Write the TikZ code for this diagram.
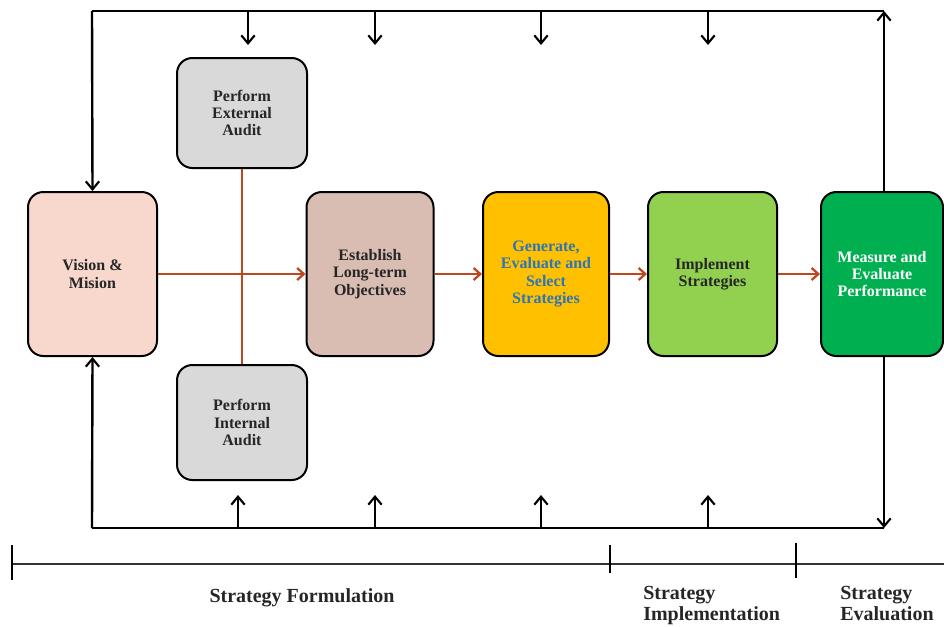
\documentclass[tikz,border=0pt]{standalone}
\usepackage{fontspec}
\setmainfont{Liberation Serif}
\usetikzlibrary{arrows.meta}
\definecolor{visionfill}{HTML}{F8D8CC}
\definecolor{auditfill}{HTML}{D9D9D9}
\definecolor{objfill}{HTML}{D9BDB3}
\definecolor{genfill}{HTML}{FFC000}
\definecolor{gentext}{HTML}{2E75B6}
\definecolor{implfill}{HTML}{92D050}
\definecolor{measfill}{HTML}{00B050}
\definecolor{flow}{HTML}{C0461E}
\definecolor{boxtext}{HTML}{262626}
\begin{document}
\begin{tikzpicture}[x=0.75pt,y=-0.75pt,
  stagebox/.style={draw=black, line width=1.5pt, rounded corners=11.5pt,
    align=center, inner sep=0pt, text=boxtext,
    font=\bfseries\fontsize{12}{13}\selectfont},
  loopline/.style={line width=1.8pt, black},
  looparrow/.style={loopline, -{Straight Barb[length=6pt,width=10pt,line width=1.6pt]}},
  flowarrow/.style={line width=2pt, flow, -{Straight Barb[length=5pt,width=9pt,line width=1.7pt]}},
  phase/.style={font=\bfseries\fontsize{15}{15.5}\selectfont, text=boxtext, align=left, inner sep=0pt},
  tick/.style={line width=1pt, black}]
\useasboundingbox (0,0) rectangle (944,626);

% stages of the process
\node[stagebox, fill=visionfill, minimum width=96.75pt, minimum height=123pt] (vision) at (92.5,274) {Vision \&\\Mision};
\node[stagebox, fill=auditfill, minimum width=97.5pt, minimum height=82.5pt] (ext) at (242,113) {Perform\\External\\Audit};
\node[stagebox, fill=auditfill, minimum width=97.5pt, minimum height=86.25pt] (int) at (242,422.5) {Perform\\Internal\\Audit};
\node[stagebox, fill=objfill, minimum width=95.25pt, minimum height=123pt] (obj) at (370,274) {Establish\\Long-term\\Objectives};
\node[stagebox, fill=genfill, text=gentext, minimum width=94.5pt, minimum height=123pt] (gen) at (546,274) {Generate,\\Evaluate and\\Select\\Strategies};
\node[stagebox, fill=implfill, minimum width=96.75pt, minimum height=123pt] (impl) at (712.5,274) {Implement\\Strategies};
\node[stagebox, fill=measfill, text=white, minimum width=91.5pt, minimum height=123pt] (meas) at (882,274) {Measure and\\Evaluate\\Performance};

% main flow
\draw[line width=2pt, flow] (ext.south) -- (int.north);
\draw[flowarrow] (vision.east) -- (obj.west);
\draw[flowarrow] (obj.east) -- (gen.west);
\draw[flowarrow] (gen.east) -- (impl.west);
\draw[flowarrow] (impl.east) -- (meas.west);

% feedback loop
\coordinate (tl) at (92,11);
\coordinate (tr) at (884,11);
\coordinate (bl) at (92,528);
\coordinate (br) at (884,528);
\draw[loopline] (tl) -- (tr);
\draw[loopline] (bl) -- (br);
\draw[looparrow] (tl) -- (vision.north);
\draw[looparrow] (bl) -- (vision.south);
\draw[looparrow] (meas.north -| tr) -- (tr);
\draw[looparrow] (meas.south -| br) -- (br);
\foreach \x in {248,375,541,708} {
  \coordinate (d\x) at (\x,11);
  \coordinate (dt\x) at (\x,45);
  \draw[looparrow, line width=1.4pt] (d\x) -- (dt\x);
}
\foreach \x in {238,375,541,708} {
  \coordinate (u\x) at (\x,528);
  \coordinate (ut\x) at (\x,495);
  \draw[looparrow, line width=1.4pt] (u\x) -- (ut\x);
}

% phases of strategic management
\coordinate (axl) at (12,564);
\coordinate (axr) at (944,564);
\draw[line width=1.3pt, black!80] (axl) -- (axr);
\draw[tick] (12,545) -- (12,580);
\draw[tick] (610,545) -- (610,573);
\draw[tick] (796,543) -- (796,578);
\node[phase] (form) at (302,598) {Strategy Formulation};
\node[phase, anchor=north west] (implph) at (643,586) {Strategy\\Implementation};
\node[phase, anchor=north west] (evalph) at (840,586) {Strategy\\Evaluation};
\end{tikzpicture}
\end{document}
